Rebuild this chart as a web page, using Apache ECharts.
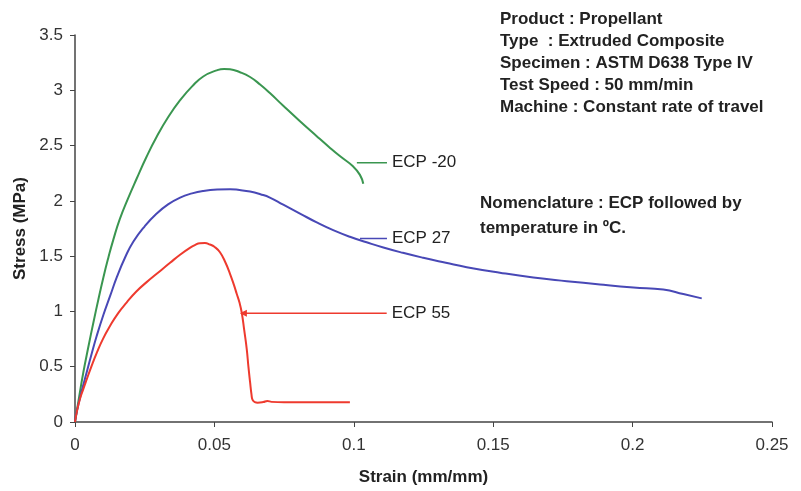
<!DOCTYPE html>
<html>
<head>
<meta charset="utf-8">
<script src="https://cdn.jsdelivr.net/npm/echarts@6/dist/echarts.min.js"></script>
<style>
html,body{margin:0;padding:0;background:#fff;}
#c{width:801px;height:491px;}
</style>
</head>
<body>
<div id="c"></div>
<script>
// Strain (mm/mm), Stress (MPa)
var ecpMinus20 = [[0,0],[0.0015,0.23],[0.003,0.45],[0.0048,0.68],[0.0066,0.90],[0.0084,1.11],[0.0102,1.31],[0.012,1.49],[0.0137,1.645],[0.016,1.83],[0.019,2.02],[0.0221,2.20],[0.0255,2.39],[0.0293,2.58],[0.0335,2.76],[0.0377,2.91],[0.042,3.035],[0.046,3.125],[0.0508,3.18],[0.0535,3.193],[0.0556,3.19],[0.059,3.165],[0.0628,3.12],[0.0665,3.05],[0.0699,2.975],[0.0747,2.86],[0.0807,2.72],[0.0867,2.585],[0.091,2.49],[0.095,2.405],[0.0998,2.31],[0.1022,2.235],[0.1034,2.155]];
var ecp27 = [[0,0],[0.0006,0.09],[0.0024,0.28],[0.0042,0.45],[0.006,0.62],[0.0078,0.78],[0.0102,0.97],[0.0126,1.14],[0.015,1.31],[0.018,1.49],[0.0209,1.63],[0.025,1.77],[0.0293,1.885],[0.0335,1.97],[0.0377,2.03],[0.042,2.068],[0.046,2.09],[0.051,2.103],[0.0556,2.106],[0.059,2.098],[0.0628,2.084],[0.0665,2.06],[0.0699,2.03],[0.0747,1.965],[0.0807,1.885],[0.0867,1.805],[0.0926,1.735],[0.0986,1.675],[0.1046,1.625],[0.1106,1.578],[0.1176,1.53],[0.1249,1.485],[0.133,1.44],[0.1405,1.40],[0.1524,1.35],[0.1644,1.307],[0.1764,1.274],[0.1883,1.244],[0.2003,1.217],[0.211,1.198],[0.2182,1.157],[0.2248,1.118]];
var ecp55 = [[0,0],[0.0008,0.11],[0.0018,0.21],[0.003,0.30],[0.0042,0.385],[0.006,0.51],[0.0078,0.625],[0.01,0.75],[0.0126,0.87],[0.0155,0.985],[0.0185,1.08],[0.022,1.18],[0.0257,1.265],[0.03,1.355],[0.0341,1.44],[0.0378,1.515],[0.0412,1.575],[0.043,1.60],[0.0448,1.617],[0.0466,1.618],[0.0484,1.605],[0.050,1.585],[0.052,1.535],[0.054,1.44],[0.0556,1.34],[0.057,1.24],[0.058,1.16],[0.059,1.08],[0.0598,0.99],[0.0607,0.83],[0.0616,0.66],[0.0622,0.50],[0.0628,0.36],[0.0633,0.25],[0.0637,0.20],[0.0645,0.18],[0.0655,0.175],[0.0675,0.18],[0.069,0.19],[0.0705,0.182],[0.075,0.178],[0.085,0.178],[0.0986,0.178]];

// leader lines for curve labels: [x start, x end, y]
var leaderMinus20 = [0.1011, 0.1119, 2.345];
var leader27 = [0.1022, 0.1119, 1.66];
var leader55 = [0.0604, 0.1118, 0.983];

var seriesNames = ['ECP -20', 'ECP 27', 'ECP 55'];
var xTicks = [0, 0.25, 0.05];
var yTicks = [0, 3.5, 0.5];
var infoLines = ['Product : Propellant', 'Type  : Extruded Composite', 'Specimen : ASTM D638 Type IV', 'Test Speed : 50 mm/min', 'Machine : Constant rate of travel'];
var noteLines = ['Nomenclature : ECP followed by', 'temperature in \u00baC.'];

var FONT = "'Liberation Sans', Arial, sans-serif";
var colors = ['#3a9650', '#4848b6', '#ee3a2e'];

var chart = echarts.init(document.getElementById('c'));

function leader(l, name, color, arrow) {
  var first = arrow
    ? {value: [l[0], l[2]], symbol: 'triangle', symbolSize: [7, 7], symbolRotate: 90}
    : [l[0], l[2]];
  return {
    type: 'line', data: [first, [l[1], l[2]]],
    symbol: 'none', showSymbol: !!arrow, silent: true,
    itemStyle: {color: color},
    lineStyle: {color: color, width: 1.6},
    endLabel: {show: true, formatter: name, distance: 5, color: '#222', fontFamily: FONT, fontSize: 17},
    animation: false
  };
}
function curve(d, color) {
  return {
    type: 'line', data: d, symbol: 'none', smooth: 0.5,
    lineStyle: {color: color, width: 2}, animation: false
  };
}

chart.setOption({
  backgroundColor: '#ffffff',
  animation: false,
  grid: {left: 75, right: 29, top: 35, bottom: 68, containLabel: false},
  xAxis: {
    type: 'value', min: xTicks[0], max: xTicks[1], interval: xTicks[2],
    name: 'Strain (mm/mm)', nameLocation: 'middle', nameGap: 47,
    nameTextStyle: {fontFamily: FONT, fontSize: 17, fontWeight: 'bold', color: '#222'},
    axisLine: {lineStyle: {color: '#444', width: 1.5}},
    axisTick: {show: true, length: 5, inside: false, lineStyle: {color: '#444'}},
    axisLabel: {margin: 15, fontFamily: FONT, fontSize: 17, color: '#333'},
    splitLine: {show: false}
  },
  yAxis: {
    type: 'value', min: yTicks[0], max: yTicks[1], interval: yTicks[2],
    name: 'Stress (MPa)', nameLocation: 'middle', nameGap: 45,
    nameTextStyle: {fontFamily: FONT, fontSize: 17, fontWeight: 'bold', color: '#222'},
    axisLine: {show: true, lineStyle: {color: '#444', width: 1.5}},
    axisTick: {show: true, length: 5, inside: false, lineStyle: {color: '#444'}},
    axisLabel: {margin: 12, fontFamily: FONT, fontSize: 17, color: '#333'},
    splitLine: {show: false}
  },
  graphic: [
    {type: 'text', left: 500, top: 8, style: {text: infoLines.join('\n'), font: 'bold 17px ' + FONT, lineHeight: 22, fill: '#222'}},
    {type: 'text', left: 480, top: 191, style: {text: noteLines.join('\n'), font: 'bold 17px ' + FONT, lineHeight: 25, fill: '#222'}}
  ],
  series: [
    curve(ecpMinus20, colors[0]),
    curve(ecp27, colors[1]),
    curve(ecp55, colors[2]),
    leader(leaderMinus20, seriesNames[0], colors[0], false),
    leader(leader27, seriesNames[1], colors[1], false),
    leader(leader55, seriesNames[2], colors[2], true)
  ]
});
</script>
</body>
</html>
